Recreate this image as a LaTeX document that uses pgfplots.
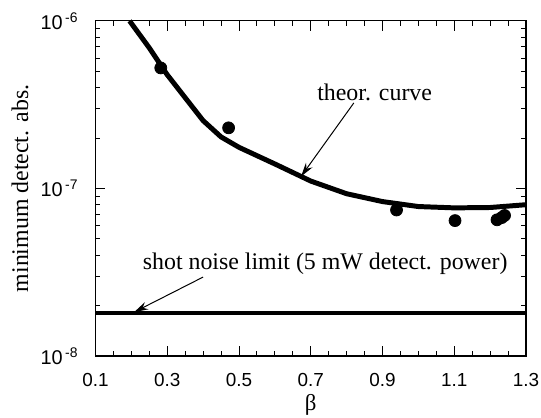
\documentclass[border=0pt]{standalone}
\usepackage{pgfplots}
\pgfplotsset{compat=1.18}
\usepackage{fontspec}
\setmainfont{Liberation Serif}
\setsansfont{Liberation Sans}
\usetikzlibrary{arrows.meta,calc}

\begin{document}
\begin{tikzpicture}
\begin{axis}[
  name=ax,
  scale only axis,
  width=216.5pt, height=168.5pt,
  ymode=log,
  xmin=0.1, xmax=1.3, ymin=1e-8, ymax=1e-6,
  xtick={0.1,0.3,0.5,0.7,0.9,1.1,1.3},
  xticklabels={0.1,0.3,0.5,0.7,0.9,1.1,1.3},
  minor x tick num=3,
  ytick={1e-8,1e-7,1e-6},
  yticklabels={10\textsuperscript{\,-8},10\textsuperscript{\,-7},10\textsuperscript{\,-6}},
  tick align=inside,
  major tick length=5pt, minor tick length=2.5pt,
  every tick/.style={black, line width=0.5pt},
  axis line style={line width=0.6pt},
  xticklabel style={font=\sffamily\fontsize{9.5}{10}\selectfont, yshift=-5pt},
  yticklabel style={font=\sffamily\fontsize{10}{11}\selectfont, xshift=-5pt},
  xlabel={β},
  ylabel={minimum detect. abs.},
  label style={font=\fontsize{12}{13}\selectfont},
  xlabel style={at={(axis description cs:0.5,-0.162)}, anchor=base, font=\fontsize{11.5}{12}\selectfont},
  ylabel style={at={(axis description cs:-0.1755,0.5)}, anchor=center},
  clip=false,
]
\addplot[black, line width=2.5pt, sharp plot] coordinates {
  (0.195,1.0e-6) (0.25,6.9e-7) (0.30,4.77e-7) (0.35,3.48e-7) (0.40,2.54e-7)
  (0.45,2.03e-7) (0.50,1.76e-7) (0.60,1.40e-7) (0.70,1.107e-7) (0.80,9.3e-8)
  (0.90,8.35e-8) (1.00,7.8e-8) (1.10,7.66e-8) (1.20,7.7e-8) (1.30,8.0e-8)
};
\addplot[only marks, mark=*, mark size=3pt, black] coordinates {
  (0.282,5.24e-7) (0.471,2.30e-7) (0.939,7.44e-8) (1.102,6.43e-8)
  (1.219,6.5e-8) (1.232,6.7e-8) (1.240,6.9e-8)
};
\addplot[black, line width=2pt] coordinates {(0.1,1.81e-8) (1.3,1.81e-8)};

\node[font=\fontsize{12}{13}\selectfont] at (axis cs:0.878,3.74e-7) {theor. curve};
\draw[-{Stealth[length=7pt,width=4pt]}, line width=0.5pt] (axis cs:0.820,3.24e-7) -- (axis cs:0.673,1.18e-7);
\node[font=\fontsize{12}{13}\selectfont] at (axis cs:0.740,3.53e-8) {shot noise limit (5 mW detect. power)};
\draw[-{Stealth[length=7pt,width=4pt]}, line width=0.5pt] (axis cs:0.400,2.96e-8) -- (axis cs:0.208,1.83e-8);
\end{axis}
\pgfresetboundingbox
\path ($(ax.south west)+(-48pt,-31pt)$) rectangle ($(ax.north east)+(7.5pt,10.5pt)$);
\end{tikzpicture}
\end{document}
